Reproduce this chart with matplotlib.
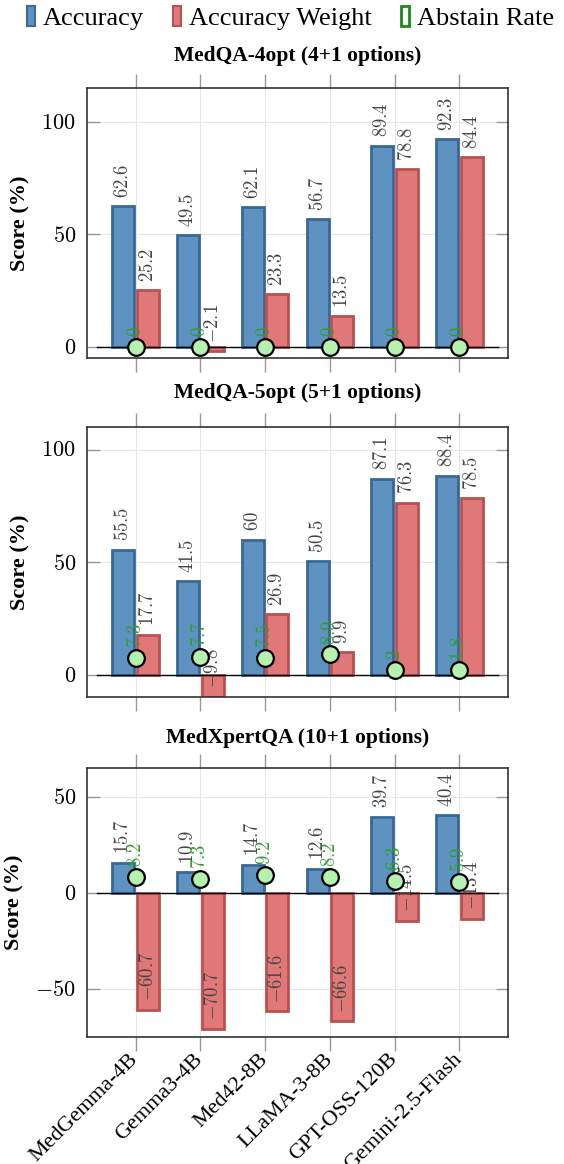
import matplotlib
matplotlib.use('Agg')
import matplotlib.pyplot as plt
import numpy as np
from matplotlib.patches import Patch
from matplotlib.ticker import FuncFormatter

plt.rcParams['font.family'] = ['Liberation Serif', 'DejaVu Serif']
plt.rcParams['mathtext.fontset'] = 'cm'

# data
models = ['MedGemma-4B', 'Gemma3-4B', 'Med42-8B', 'LLaMA-3-8B', 'GPT-OSS-120B', 'Gemini-2.5-Flash']
titles = ['MedQA-4opt (4+1 options)', 'MedQA-5opt (5+1 options)', 'MedXpertQA (10+1 options)']

acc_4opt = [62.6, 49.5, 62.1, 56.7, 89.4, 92.3]
accw_4opt = [25.2, -2.1, 23.3, 13.5, 78.8, 84.4]
abst_4opt = [0, 0, 0, 0, 0, 0]

acc_5opt = [55.5, 41.5, 60, 50.5, 87.1, 88.4]
accw_5opt = [17.7, -9.8, 26.9, 9.9, 76.3, 78.5]
abst_5opt = [7.3, 7.7, 7.5, 8.9, 2, 1.8]

acc_xpert = [15.7, 10.9, 14.7, 12.6, 39.7, 40.4]
accw_xpert = [-60.7, -70.7, -61.6, -66.6, -14.5, -13.4]
abst_xpert = [8.2, 7.3, 9.2, 8.2, 6.3, 5.9]

panels = [(acc_4opt, accw_4opt, abst_4opt), (acc_5opt, accw_5opt, abst_5opt), (acc_xpert, accw_xpert, abst_xpert)]
ylims = [(-5, 115), (-10, 110), (-75, 65)]
yticks = [[0, 50, 100], [0, 50, 100], [-50, 0, 50]]

W, H = 564, 1164
blue_f, blue_e = '#5e93c1', '#3a6894'
red_f, red_e = '#e07878', '#b85252'
green_t = '#2f9e2f'
circ_f = '#b5f2b0'
lab_c = '#444444'

fig = plt.figure(figsize=(W / 100, H / 100), dpi=100)

# axes boxes in pixels: (top, bottom)
boxes = [(88, 358), (427, 697), (768, 1037)]
title_y = [56, 393, 738]
left, right = 87, 508

x = np.arange(len(models))
bw = 0.34
off = 0.19
lab_fs = 13.5

for i, (acc, accw, abst) in enumerate(panels):
    top, bot = boxes[i]
    ax = fig.add_axes([left / W, 1 - bot / H, (right - left) / W, (bot - top) / H])
    ax.bar(x - off, acc, bw, color=blue_f, edgecolor=blue_e, linewidth=2, zorder=2)
    ax.bar(x + off, accw, bw, color=red_f, edgecolor=red_e, linewidth=2, zorder=2)
    ax.plot([-0.6, 5.6], [0, 0], color='black', lw=1, zorder=3)
    for j in range(len(models)):
        ax.annotate(f'${acc[j]:g}$', (x[j] - off, acc[j]), xytext=(0, 6), textcoords='offset points',
                    rotation=90, ha='center', va='bottom', fontsize=lab_fs, color=lab_c, zorder=4)
        ax.annotate(f'${accw[j]:g}$', (x[j] + off, accw[j]), xytext=(0, 6), textcoords='offset points',
                    rotation=90, ha='center', va='bottom', fontsize=lab_fs, color=lab_c, zorder=4)
        ax.annotate(f'${abst[j]:g}$', (x[j], abst[j]), xytext=(0, 7), textcoords='offset points',
                    rotation=90, ha='center', va='bottom', fontsize=lab_fs, color=green_t, zorder=4)
    ax.plot(x, abst, 'o', ms=12, mfc=circ_f, mec='black', mew=1.6, zorder=5, clip_on=False)

    ax.set_xlim(-0.75, 5.75)
    ax.set_ylim(*ylims[i])
    ax.set_yticks(yticks[i])
    ax.yaxis.set_major_formatter(FuncFormatter(lambda v, p: f'${v:g}$'))
    ax.set_xticks(x)
    ax.grid(True, color='#e6e6e6', lw=0.8, zorder=0)
    ax.set_axisbelow(True)
    ax.tick_params(axis='x', direction='out', length=10, color='#999999', top=True, bottom=True, width=1,
                   pad=4)
    ax.tick_params(axis='y', direction='in', length=9, color='#999999', left=True, right=True, width=1,
                   labelsize=16, pad=8)
    for s in ax.spines.values():
        s.set_color('#333333')
        s.set_linewidth(1.2)
    if i == 2:
        ax.set_xticklabels(models, rotation=45, ha='right', va='center', rotation_mode='anchor',
                           fontsize=16)
    else:
        ax.set_xticklabels([])
    ax.set_ylabel('Score (%)', fontsize=16, fontweight='bold', labelpad=8)
    fig.text((left + right) / 2 / W, 1 - title_y[i] / H, titles[i], ha='center', va='center',
             fontsize=15.5, fontweight='bold')

handles = [Patch(facecolor=blue_f, edgecolor=blue_e, lw=1.5),
           Patch(facecolor=red_f, edgecolor=red_e, lw=1.5),
           Patch(facecolor='white', edgecolor='#1a8a1a', lw=2)]
fig.legend(handles, ['Accuracy', 'Accuracy Weight', 'Abstain Rate'], loc='center',
           bbox_to_anchor=(0.515, 1 - 18 / H), ncol=3, frameon=False, fontsize=19,
           handlelength=0.3, handleheight=0.8, handletextpad=0.3, columnspacing=1.1)

fig.savefig('out.png', dpi=100)
